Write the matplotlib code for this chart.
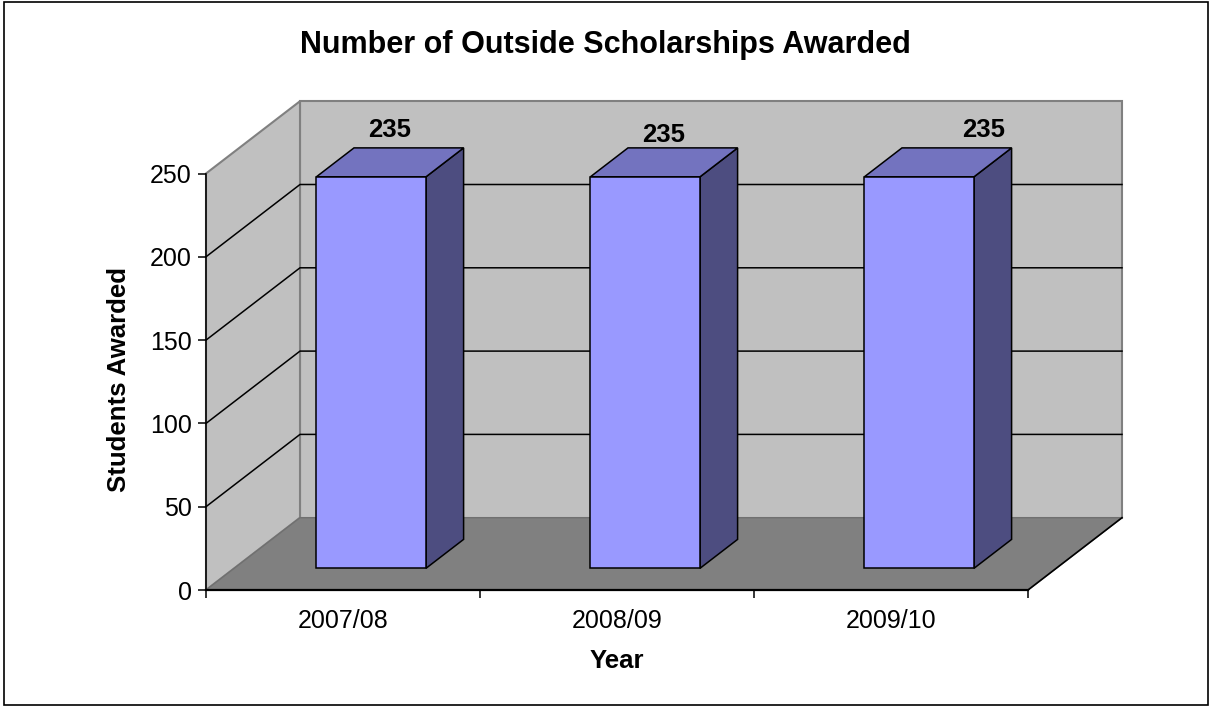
import matplotlib
matplotlib.use("Agg")
import matplotlib.pyplot as plt
from matplotlib.patches import Polygon, Rectangle

plt.rcParams["font.family"] = ["Liberation Sans", "DejaVu Sans"]

years = ["2007/08", "2008/09", "2009/10"]
students = [235, 235, 235]
y_ticks = [0, 50, 100, 150, 200, 250]

title = "Number of Outside Scholarships Awarded"
x_title = "Year"
y_title = "Students Awarded"

W, H = 1209, 706
# front plane of the fake 3d box, in pixels
LEFT, RIGHT, TOP, BOTTOM = 206, 1028, 173.5, 590

# how far the back wall is shifted, in data units
DEPTH_X = 94 / 274
DEPTH_Y = 250 * 72.3 / 416.5

BAR_WIDTH = 0.4
BAR_D0 = 0.3
BAR_D1 = 0.7

# label nudges off the top face of each bar, in pixels
label_shift = [(0, 32), (0, 27), (46, 32)]


def proj(x, y, d=0.0):
    return (x + d * DEPTH_X, y + d * DEPTH_Y)


def face(ax, pts, color, edge="black", lw=1.1, z=2):
    ax.add_patch(Polygon(pts, closed=True, facecolor=color, edgecolor=edge,
                         linewidth=lw, zorder=z, clip_on=False, joinstyle="miter"))


fig = plt.figure(figsize=(W / 100, H / 100), dpi=100)
fig.add_artist(Rectangle((4 / W, 1 / H), 1204 / W, 703 / H, transform=fig.transFigure,
                         facecolor="none", edgecolor="black", linewidth=1.2))

ax = fig.add_axes([LEFT / W, 1 - BOTTOM / H, (RIGHT - LEFT) / W, (BOTTOM - TOP) / H])
n = len(years)
ax.set_xlim(0, n)
ax.set_ylim(y_ticks[0], y_ticks[-1])
ax.patch.set_visible(False)
for side in ["top", "right"]:
    ax.spines[side].set_visible(False)
ax.spines["left"].set_linewidth(1.1)
ax.spines["bottom"].set_linewidth(1.6)
ax.spines["bottom"].set_zorder(5)

ymax = y_ticks[-1]
# walls and floor
face(ax, [proj(0, 0, 1), proj(n, 0, 1), proj(n, ymax, 1), proj(0, ymax, 1)], "#C0C0C0", "#808080", 1.5, 0)
face(ax, [proj(0, 0), proj(0, 0, 1), proj(0, ymax, 1), proj(0, ymax)], "#C0C0C0", "#808080", 1.5, 0)
face(ax, [proj(0, 0), proj(n, 0), proj(n, 0, 1), proj(0, 0, 1)], "#808080", "#707070", 1.0, 0.5)
ax.plot(*zip(proj(n, 0), proj(n, 0, 1)), color="black", lw=1.2, zorder=1, clip_on=False)

# gridlines run across the side wall and the back wall
for t in y_ticks[1:-1]:
    pts = [proj(0, t), proj(0, t, 1), proj(n, t, 1)]
    ax.plot(*zip(*pts), color="black", lw=1.1, zorder=1, clip_on=False)

for i, v in enumerate(students):
    x0 = i + 0.5 - BAR_WIDTH / 2
    x1 = i + 0.5 + BAR_WIDTH / 2
    face(ax, [proj(x1, 0, BAR_D0), proj(x1, 0, BAR_D1), proj(x1, v, BAR_D1), proj(x1, v, BAR_D0)], "#4D4D80", z=2)
    face(ax, [proj(x0, v, BAR_D0), proj(x1, v, BAR_D0), proj(x1, v, BAR_D1), proj(x0, v, BAR_D1)], "#7373BF", z=2)
    face(ax, [proj(x0, 0, BAR_D0), proj(x1, 0, BAR_D0), proj(x1, v, BAR_D0), proj(x0, v, BAR_D0)], "#9999FF", z=3)
    ax.annotate(str(v), xy=proj(i + 0.5, v, (BAR_D0 + BAR_D1) / 2), xytext=label_shift[i],
                textcoords="offset pixels", ha="center", va="center",
                fontsize=18.5, fontweight="bold", annotation_clip=False)

ax.set_yticks(y_ticks)
ax.set_xticks(range(n + 1))
ax.set_xticklabels([])
ax.set_xticks([i + 0.5 for i in range(n)], minor=True)
ax.set_xticklabels(years, minor=True)
ax.tick_params(axis="x", which="major", length=5.8, width=1.1, color="black")
ax.tick_params(axis="x", which="minor", length=0, labelsize=18, pad=14)
ax.tick_params(axis="y", length=5.8, width=1.1, labelsize=18, pad=4.5)

ax.set_xlabel(x_title, fontsize=18.5, fontweight="bold", labelpad=11)
ax.set_ylabel(y_title, fontsize=18.5, fontweight="bold")
ax.yaxis.set_label_coords((131 - LEFT) / (RIGHT - LEFT), (BOTTOM - 380) / (BOTTOM - TOP))
fig.text(605 / W, 1 - 45 / H, title, ha="center", va="center", fontsize=22, fontweight="bold")

fig.savefig("out.png", dpi=100)
